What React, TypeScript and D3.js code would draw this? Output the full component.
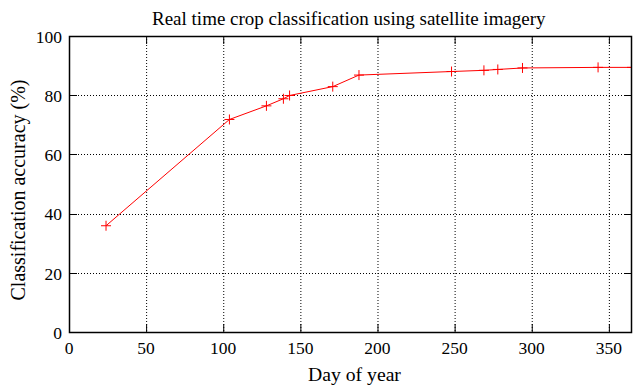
import React, { useEffect, useRef } from 'react';
import * as d3 from 'd3';

const days = [24, 104, 128, 139, 143, 171, 188, 248, 269, 278, 294, 343, 365];
const accuracy = [35.9, 71.8, 76.4, 78.8, 79.9, 82.9, 86.8, 88.0, 88.4, 88.7, 89.2, 89.4, 89.4];
const xTicks = [0, 50, 100, 150, 200, 250, 300, 350];
const yTicks = [0, 20, 40, 60, 80, 100];

const App = () => {
  const ref = useRef<SVGSVGElement>(null);

  useEffect(() => {
    const width = 633;
    const height = 386;
    const margin = { top: 36, right: 1, bottom: 54, left: 69 };
    const font = '"Liberation Serif", "Times New Roman", serif';

    const svg = d3.select(ref.current);
    svg.selectAll('*').remove();

    const x = d3.scaleLinear().domain([0, 365]).range([margin.left, width - margin.right]);
    const y = d3.scaleLinear().domain([0, 100]).range([height - margin.bottom, margin.top]);

    svg.append('rect').attr('width', width).attr('height', height).attr('fill', 'white');

    const grid = svg.append('g').attr('stroke', '#000').attr('stroke-width', 1)
      .attr('stroke-dasharray', '1,2');
    xTicks.forEach((t) => {
      if (t === 0) return;
      grid.append('line').attr('x1', x(t) + 0.5).attr('x2', x(t) + 0.5)
        .attr('y1', y(100)).attr('y2', y(0));
    });
    yTicks.forEach((t) => {
      if (t === 0 || t === 100) return;
      grid.append('line').attr('y1', Math.round(y(t)) + 0.5).attr('y2', Math.round(y(t)) + 0.5)
        .attr('x1', x(0)).attr('x2', x(365));
    });

    // inward ticks on all four sides
    const ticks = svg.append('g').attr('stroke', '#000').attr('stroke-width', 1);
    const tl = 8;
    xTicks.forEach((t) => {
      ticks.append('line').attr('x1', x(t) + 0.5).attr('x2', x(t) + 0.5).attr('y1', y(0)).attr('y2', y(0) - tl);
      ticks.append('line').attr('x1', x(t) + 0.5).attr('x2', x(t) + 0.5).attr('y1', y(100)).attr('y2', y(100) + tl);
    });
    yTicks.forEach((t) => {
      const yy = Math.round(y(t)) + 0.5;
      ticks.append('line').attr('x1', x(0)).attr('x2', x(0) + tl).attr('y1', yy).attr('y2', yy);
      ticks.append('line').attr('x1', x(365)).attr('x2', x(365) - tl).attr('y1', yy).attr('y2', yy);
    });

    svg.append('clipPath').attr('id', 'plot-clip').append('rect')
      .attr('x', x(0)).attr('y', y(100)).attr('width', x(365) - x(0)).attr('height', y(0) - y(100));

    const pts: [number, number][] = days.map((d, i) => [d, accuracy[i]]);
    const plot = svg.append('g').attr('clip-path', 'url(#plot-clip)');
    plot.append('path')
      .attr('d', d3.line<[number, number]>().x((d) => x(d[0])).y((d) => y(d[1]))(pts))
      .attr('fill', 'none').attr('stroke', '#ff0000').attr('stroke-width', 1);
    plot.selectAll('.mark').data(pts).enter().append('path')
      .attr('class', 'mark')
      .attr('d', (d) => {
        const cx = x(d[0]);
        const cy = y(d[1]);
        return `M${cx - 5},${cy}H${cx + 5}M${cx},${cy - 5}V${cy + 5}`;
      })
      .attr('stroke', '#ff0000').attr('stroke-width', 1);

    svg.append('rect').attr('x', x(0) + 0.5).attr('y', y(100) + 0.5)
      .attr('width', x(365) - x(0) - 1).attr('height', y(0) - y(100))
      .attr('fill', 'none').attr('stroke', '#000').attr('stroke-width', 1.5);

    svg.append('g').selectAll('text').data(xTicks).enter().append('text')
      .attr('x', (d) => x(d)).attr('y', y(0) + 21.5)
      .attr('text-anchor', 'middle').attr('font-family', font).attr('font-size', 17.5)
      .text((d) => d);
    svg.append('g').selectAll('text').data(yTicks).enter().append('text')
      .attr('x', x(0) - 7).attr('y', (d) => y(d) + 6.8)
      .attr('text-anchor', 'end').attr('font-family', font).attr('font-size', 17.5)
      .text((d) => d);

    svg.append('text').attr('x', 152).attr('y', 24.5).attr('text-anchor', 'start')
      .attr('font-family', font).attr('font-size', 19).text('Real time crop classification using satellite imagery');
    svg.append('text').attr('x', 308).attr('y', 381).attr('text-anchor', 'start')
      .attr('font-family', font).attr('font-size', 19.7).text('Day of year');
    svg.append('text').attr('transform', 'translate(25, 190) rotate(-90)')
      .attr('text-anchor', 'middle').attr('font-family', font).attr('font-size', 20)
      .text('Classification accuracy (%)');
  }, []);

  return (
    <svg ref={ref} width={633} height={386}
      style={{ position: 'absolute', left: 0, top: 0, display: 'block' }} />
  );
};

export default App;
